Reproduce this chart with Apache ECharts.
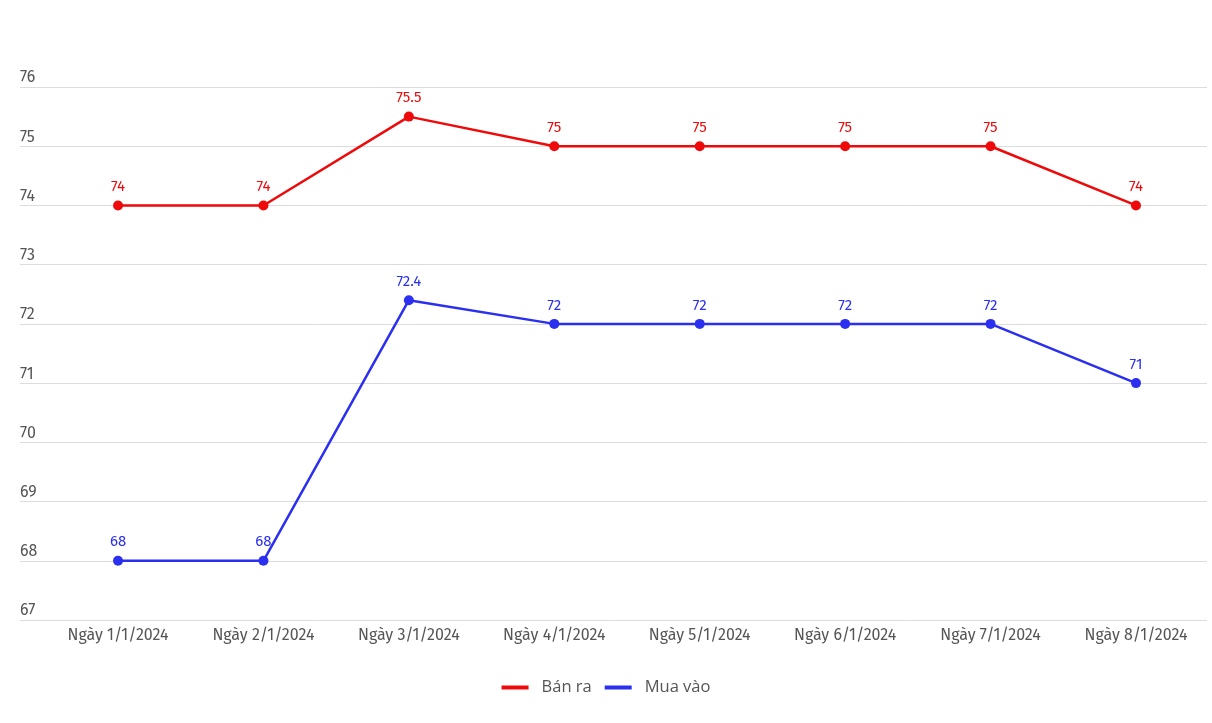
<!DOCTYPE html>
<html><head><meta charset="utf-8">
<script src="https://cdn.jsdelivr.net/npm/echarts@6/dist/echarts.min.js"></script>
<style>html,body{margin:0;padding:0;background:#fff}#c{width:1212px;height:723px}</style>
</head><body><div id="c"></div>
<script>
const categories = ["Ngày 1/1/2024","Ngày 2/1/2024","Ngày 3/1/2024","Ngày 4/1/2024","Ngày 5/1/2024","Ngày 6/1/2024","Ngày 7/1/2024","Ngày 8/1/2024"];
const banRa = [74, 74, 75.5, 75, 75, 75, 75, 74];
const muaVao = [68, 68, 72.4, 72, 72, 72, 72, 71];
const yMin = 67, yMax = 76, yStep = 1;
const FONT = '"Fira Sans","Noto Sans","Open Sans",sans-serif';
const LEGFONT = '"Open Sans","Noto Sans",sans-serif';
const RED = '#ee0a0a', BLUE = '#2a2ff0';

const chart = echarts.init(document.getElementById('c'));
function ser(name, data, color){
  return {
    name, type:'line', data, xAxisIndex:1, yAxisIndex:1,
    symbol:'circle', symbolSize:10, showSymbol:true,
    lineStyle:{color, width:2.5}, itemStyle:{color},
    label:{show:true, position:'top', distance:6, color, fontSize:15, fontFamily:FONT},
    emphasis:{disabled:true}
  };
}
chart.setOption({
  animation:false,
  textStyle:{fontFamily:FONT},
  grid:[
    {left:20, right:5, top:87, bottom:103},
    {left:45.3, right:3.3, top:87, bottom:103}
  ],
  xAxis:[
    {type:'category', gridIndex:0, data:categories, show:false},
    {type:'category', gridIndex:1, data:categories, boundaryGap:true,
     axisLine:{show:false}, axisTick:{show:false},
     axisLabel:{color:'#555', fontSize:16, margin:8, fontFamily:FONT}}
  ],
  yAxis:[
    {type:'value', gridIndex:0, min:yMin, max:yMax, interval:yStep,
     axisLine:{show:false}, axisTick:{show:false},
     splitLine:{lineStyle:{color:'#dcdcdc', width:1}},
     axisLabel:{inside:true, margin:0, verticalAlign:'bottom', padding:[0,0,1,0], color:'#555', fontSize:16, fontFamily:FONT}},
    {type:'value', gridIndex:1, min:yMin, max:yMax, interval:yStep, show:false, splitLine:{show:false}}
  ],
  legend:{
    bottom:22, left:'center', itemWidth:27, itemHeight:4, itemGap:13, icon:'rect',
    textStyle:{color:'#555', fontSize:16.5, fontFamily:LEGFONT, padding:[0,0,0,8]},
    data:['Bán ra','Mua vào']
  },
  series:[ser('Bán ra', banRa, RED), ser('Mua vào', muaVao, BLUE)]
});
</script></body></html>
